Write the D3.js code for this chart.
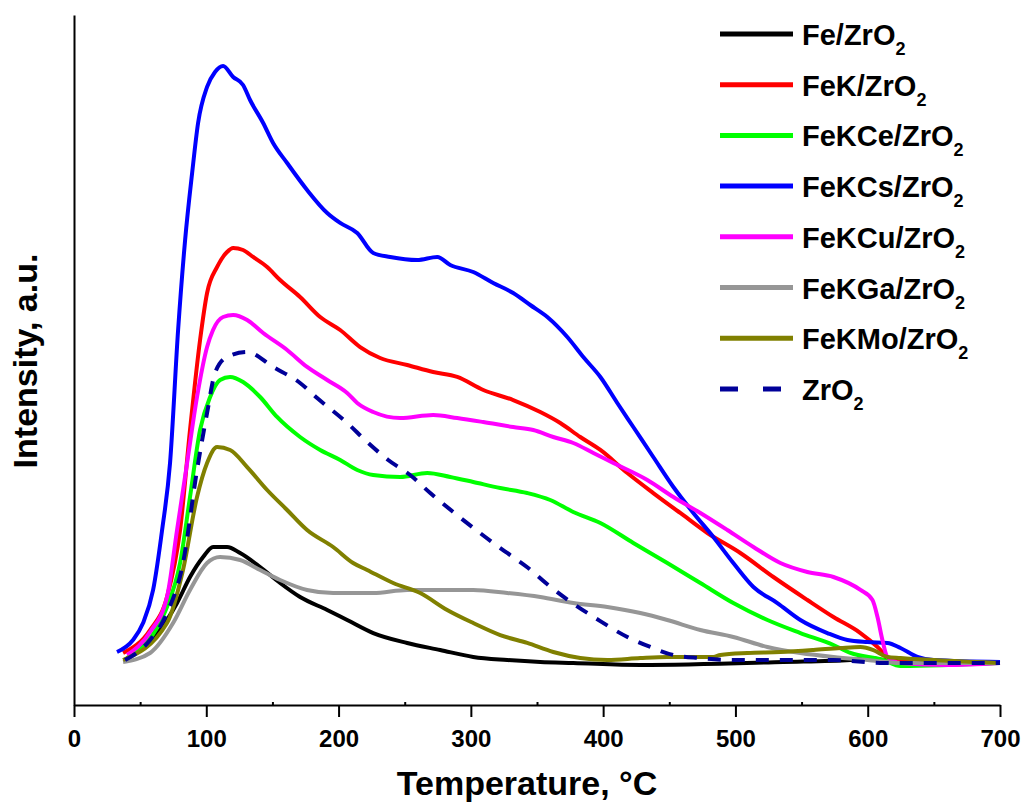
<!DOCTYPE html>
<html>
<head>
<meta charset="utf-8">
<script src="https://cdn.jsdelivr.net/npm/d3@7"></script>
<style>
  html, body { margin: 0; padding: 0; background: #fff; }
  svg { display: block; }
  text { font-family: "Liberation Sans", Arial, sans-serif; font-weight: bold; fill: #000; }
</style>
</head>
<body>
<svg id="chart" width="1025" height="803"></svg>
<script>
// ---------- data (temperature °C, intensity a.u.) ----------
const xTicks = [0, 100, 200, 300, 400, 500, 600, 700];
const xMinorTicks = [50, 150, 250, 350, 450, 550, 650];

const seriesNames = ["Fe/ZrO", "FeK/ZrO", "FeKCe/ZrO", "FeKCs/ZrO", "FeKCu/ZrO", "FeKGa/ZrO", "FeKMo/ZrO", "ZrO"];
const seriesColors = ["#000000", "#ff0000", "#00ff00", "#0000ff", "#ff00ff", "#969696", "#808000", "#000099"];

const feZrO2 = [[38,6.5],[44.6,7.25],[65,10.87],[77.9,14.78],[87.7,18.55],[97.6,21.45],[105.1,22.9],[115.7,22.9],[125.6,22.03],[140.7,20.0],[155.8,17.68],[170.9,15.65],[191.4,13.77],[206.5,12.32],[226.2,10.43],[251.9,8.99],[276.8,7.97],[301.8,6.96],[327.5,6.52],[352.5,6.23],[377.4,6.09],[428.1,5.8],[536.3,6.23],[587,6.52],[602.1,6.81],[611.9,6.52],[700,6.09]];

const feKZrO2 = [[37.1,7.54],[57.5,10.87],[70.3,15.65],[80.2,25.36],[87.7,39.86],[95.3,52.9],[100.6,59.71],[108.2,63.48],[115.7,65.65],[120.3,66.23],[127.8,65.94],[135.4,64.93],[146,63.48],[155.8,61.59],[170.9,59.13],[186.1,56.23],[201.2,54.35],[216.3,51.88],[231.4,50.29],[251.9,49.28],[271.5,48.26],[289.7,47.54],[309.4,45.65],[332,44.2],[352.5,42.46],[367.6,40.87],[382.7,38.84],[397.9,36.96],[418.3,33.62],[437.9,30.72],[458.3,27.83],[478.8,24.93],[503.7,22.03],[528.7,18.55],[554.4,15.22],[574.1,12.75],[594.5,10.43],[607.4,8.41],[614.9,6.96],[624.8,6.23],[700,6.23]];

const feKCeZrO2 = [[40.1,6.81],[70.3,14.2],[80.2,20.58],[87.7,30.14],[95.3,39.86],[102.9,44.64],[110.4,47.1],[118,47.54],[127.8,46.81],[140.7,44.64],[153.5,41.74],[170.9,38.84],[186.1,36.96],[201.2,35.51],[214.1,34.06],[226.2,33.33],[246.6,33.04],[267,33.62],[284.4,33.04],[301.8,32.32],[322.2,31.45],[342.6,30.72],[360,29.71],[377.4,27.97],[397.9,26.38],[422.8,23.48],[448.5,20.58],[473.5,17.68],[498.4,14.78],[524.2,12.32],[549.1,10.43],[574.1,8.7],[586.9,7.54],[611.9,6.52],[624.8,5.65],[700,6.09]];

const feKCsZrO2 = [[32.5,7.68],[44.6,9.42],[52.2,11.88],[59.8,16.67],[66.6,25.36],[72.6,35.07],[78.7,54.35],[84,67.39],[89.3,77.1],[93.8,84.35],[100.6,89.57],[106.6,91.74],[112.7,92.61],[120.3,91.01],[127.8,89.86],[133.1,87.68],[143,84.35],[150.5,81.45],[161.1,78.55],[176.2,74.64],[191.4,71.3],[201.2,69.86],[214.1,68.41],[226.2,65.51],[239,64.93],[259.4,64.49],[274.6,64.93],[284.4,63.77],[301.8,62.75],[316.9,61.16],[332,59.71],[344.9,57.97],[357.8,56.23],[372.9,53.33],[385,50.43],[397.9,47.54],[410.7,43.77],[422.8,40.29],[437.9,35.94],[453.1,31.59],[468.2,27.83],[483.3,24.35],[498.4,20.58],[513.6,17.1],[531.7,14.78],[549.1,12.32],[569.5,10.43],[584.7,9.42],[599.8,9.13],[614.9,8.99],[624.8,8.26],[637.6,6.96],[649.7,6.52],[700,6.23]];

const feKCuZrO2 = [[40.1,7.25],[57.5,10.58],[70.3,15.65],[77.9,25.36],[85.5,35.07],[93,44.64],[100.6,51.88],[105.1,54.35],[112.7,56.23],[120.3,56.52],[130.9,55.8],[143,53.91],[161.1,51.45],[176.2,48.99],[191.4,47.1],[206.5,45.22],[214.1,43.77],[226.2,42.46],[246.6,41.59],[271.5,42.03],[289.7,41.59],[309.4,41.01],[332,40.29],[347.2,39.86],[362.3,38.84],[377.4,37.97],[392.6,36.52],[407.7,35.07],[433.4,32.61],[453.1,30.14],[473.5,27.83],[493.9,25.36],[513.6,22.9],[534,20.58],[554.4,19.28],[574.1,18.55],[594.5,16.67],[603.6,15.22],[607.4,12.75],[611.1,9.42],[614.9,6.96],[624.8,6.09],[658.8,5.8],[700,6.09]];

const feKGaZrO2 = [[37.1,6.23],[57.5,7.54],[74.9,11.88],[87.7,16.67],[100.6,20.58],[110.4,21.45],[125.6,21.01],[140.7,19.57],[155.8,18.12],[176.2,16.67],[195.9,16.23],[226.2,16.23],[251.9,16.67],[301.8,16.67],[327.5,16.23],[352.5,15.65],[377.4,14.78],[403.2,14.2],[428.1,13.33],[448.5,12.32],[473.5,10.87],[498.4,9.86],[524.2,8.41],[549.1,7.54],[574.1,6.96],[599.8,6.52],[624.8,6.09],[700,6.09]];

const feKMoZrO2 = [[37.1,6.52],[70.3,11.88],[82.4,19.57],[93,30.14],[100.6,35.07],[108.2,37.39],[118,36.96],[130.9,34.49],[146,31.16],[161.1,28.26],[176.2,25.36],[195.9,22.9],[211,20.58],[221.6,19.57],[241.3,17.68],[261.7,16.23],[282.1,13.77],[301.8,11.88],[322.2,10.14],[342.6,8.99],[362.3,7.68],[382.7,6.81],[403.2,6.52],[428.1,6.81],[448.5,6.96],[483.3,6.96],[488.6,7.25],[509,7.54],[534,7.68],[559,7.97],[579.4,8.26],[594.5,8.41],[604.3,7.97],[614.9,6.96],[624.8,6.81],[700,6.09]];

const zrO2 = [[38.6,6.52],[57.5,9.42],[70.3,13.33],[82.4,20.58],[93,34.06],[100.6,42.32],[106.6,48.12],[115.7,50.43],[130.9,51.16],[150.5,48.99],[170.9,46.67],[183.8,44.49],[206.5,40.87],[221.6,38.12],[237.5,35.51],[254.1,33.33],[269.3,30.72],[286.7,27.97],[310.9,24.35],[327.5,22.03],[343.4,19.86],[358.5,17.39],[376.7,14.78],[394.1,12.61],[418.3,9.86],[435.7,8.41],[453.1,7.25],[473.5,6.81],[498.4,6.52],[574.1,6.52],[611.9,6.09],[700,6.09]];

const seriesData = [feZrO2, feKZrO2, feKCeZrO2, feKCsZrO2, feKCuZrO2, feKGaZrO2, feKMoZrO2, zrO2];

// ---------- drawing ----------
const svg = d3.select("#chart");
const x = d3.scaleLinear().domain([0, 700]).range([74, 1000]);
const y = d3.scaleLinear().domain([0, 100]).range([705, 15]);

// curves
const line = d3.line().x(d => x(d[0])).y(d => y(d[1])).curve(d3.curveMonotoneX);
const plot = svg.append("g");
seriesData.forEach((data, i) => {
  plot.append("path")
    .datum(data)
    .attr("d", line)
    .attr("fill", "none")
    .attr("stroke", seriesColors[i])
    .attr("stroke-width", 4)
    .attr("stroke-linejoin", "round")
    .attr("stroke-dasharray", i === 7 ? "13,11" : null);
});

// x axis
const xAxis = svg.append("g").attr("transform", "translate(0,705)")
  .call(d3.axisBottom(x).tickValues(xTicks).tickSize(12).tickSizeOuter(0).tickPadding(13).tickFormat(d3.format("d")));
xAxis.select(".domain").attr("stroke", "#000").attr("stroke-width", 2);
xAxis.selectAll(".tick line").attr("stroke", "#000").attr("stroke-width", 2);
xAxis.selectAll(".tick text")
  .attr("font-family", "'Liberation Sans', Arial, sans-serif")
  .attr("font-weight", "bold").attr("font-size", 24).attr("fill", "#000");

const xMinor = svg.append("g").attr("transform", "translate(0,705)")
  .call(d3.axisBottom(x).tickValues(xMinorTicks).tickSize(-3).tickSizeOuter(0).tickFormat(""));
xMinor.select(".domain").remove();
xMinor.selectAll(".tick line").attr("stroke", "#000").attr("stroke-width", 2);

// y axis (no ticks)
const yAxis = svg.append("g").attr("transform", "translate(74,0)")
  .call(d3.axisLeft(y).tickValues([]).tickSizeOuter(0));
yAxis.select(".domain").attr("stroke", "#000").attr("stroke-width", 2);

// axis titles
svg.append("text")
  .attr("x", 527).attr("y", 795)
  .attr("text-anchor", "middle").attr("font-size", 34)
  .text("Temperature, °C");
svg.append("text")
  .attr("transform", "translate(37,361) rotate(-90)")
  .attr("text-anchor", "middle").attr("font-size", 34)
  .text("Intensity, a.u.");

// legend
const legend = svg.append("g");
seriesNames.forEach((name, i) => {
  const ly = 34 + i * 50.7;
  legend.append("line")
    .attr("x1", 720).attr("x2", 793).attr("y1", ly).attr("y2", ly)
    .attr("stroke", seriesColors[i]).attr("stroke-width", 5)
    .attr("stroke-dasharray", i === 7 ? "18,25" : null);
  const t = legend.append("text")
    .attr("x", 802).attr("y", ly + 11).attr("font-size", 29);
  t.append("tspan").text(name);
  t.append("tspan").attr("font-size", 18).attr("dy", 10).text("2");
});
</script>
</body>
</html>
